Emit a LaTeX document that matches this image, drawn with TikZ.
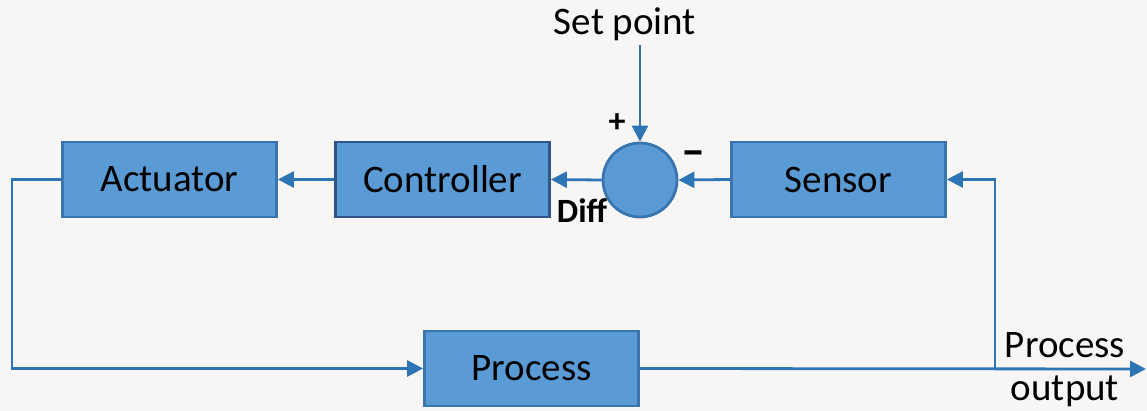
\documentclass[tikz,border=0pt]{standalone}
\usepackage{fontspec}
\setmainfont{Carlito}
\usetikzlibrary{arrows.meta}
\definecolor{bg}{HTML}{F8F5F5}
\definecolor{boxfill}{HTML}{5B9BD5}
\definecolor{boxdraw}{HTML}{3A75B0}
\definecolor{ctrldraw}{HTML}{2F5486}
\definecolor{wire}{HTML}{2E75B6}
\begin{document}
\begin{tikzpicture}[x=0.5pt,y=-0.5pt,
  blk/.style={draw=boxdraw,fill=boxfill,line width=1.4pt,minimum width=107pt,minimum height=37.5pt,inner sep=0pt,font=\fontsize{19.5}{22}\selectfont,text=black},
  conn/.style={draw=wire,line width=1.4pt,-{Triangle[length=8pt,width=8pt]}},
  lbl/.style={font=\fontsize{19.5}{22}\selectfont,text=black,inner sep=0pt}]
\fill[bg] (0,0) rectangle (1147,411);
\useasboundingbox (0,0) rectangle (1147,411);
\node[blk] (act) at (169.5,179.5) {Actuator};
\node[blk,draw=ctrldraw] (ctrl) at (442.5,179.5) {Controller};
\node[circle,draw=boxdraw,fill=boxfill,line width=1.4pt,minimum size=37pt,inner sep=0pt] (sum) at (640,180) {};
\node[blk] (sens) at (838.5,179.5) {Sensor};
\node[blk] (proc) at (531.5,368.5) {Process};
\node[lbl] (sp) at (625,24) {Set point};
\node[font=\bfseries\fontsize{17}{18}\selectfont,inner sep=0pt] (plus) at (617,123) {+};
\node[font=\bfseries\fontsize{24}{24}\selectfont,inner sep=0pt] (minus) at (693,159) {–};
\node[font=\bfseries\fontsize{17}{19}\selectfont,inner sep=0pt] (diff) at (582,211) {Diff};
\node[lbl] (po1) at (1065,345) {Process};
\node[lbl] (po2) at (1065,391) {output};
\coordinate (end) at (1146,369);
\coordinate (tap) at (995,369);
\draw[conn] (sum.north |- 0,45) -- (sum.north);
\draw[conn] (sens.west) -- (sum.east);
\draw[conn] (sum.west) -- (ctrl.east);
\draw[conn] (ctrl.west) -- (act.east);
\draw[conn] (act.west) -- (12,179.5) |- (proc.west);
\draw[conn] (proc.east) -- (end);
\draw[conn] (tap) |- (sens.east);
\end{tikzpicture}
\end{document}
